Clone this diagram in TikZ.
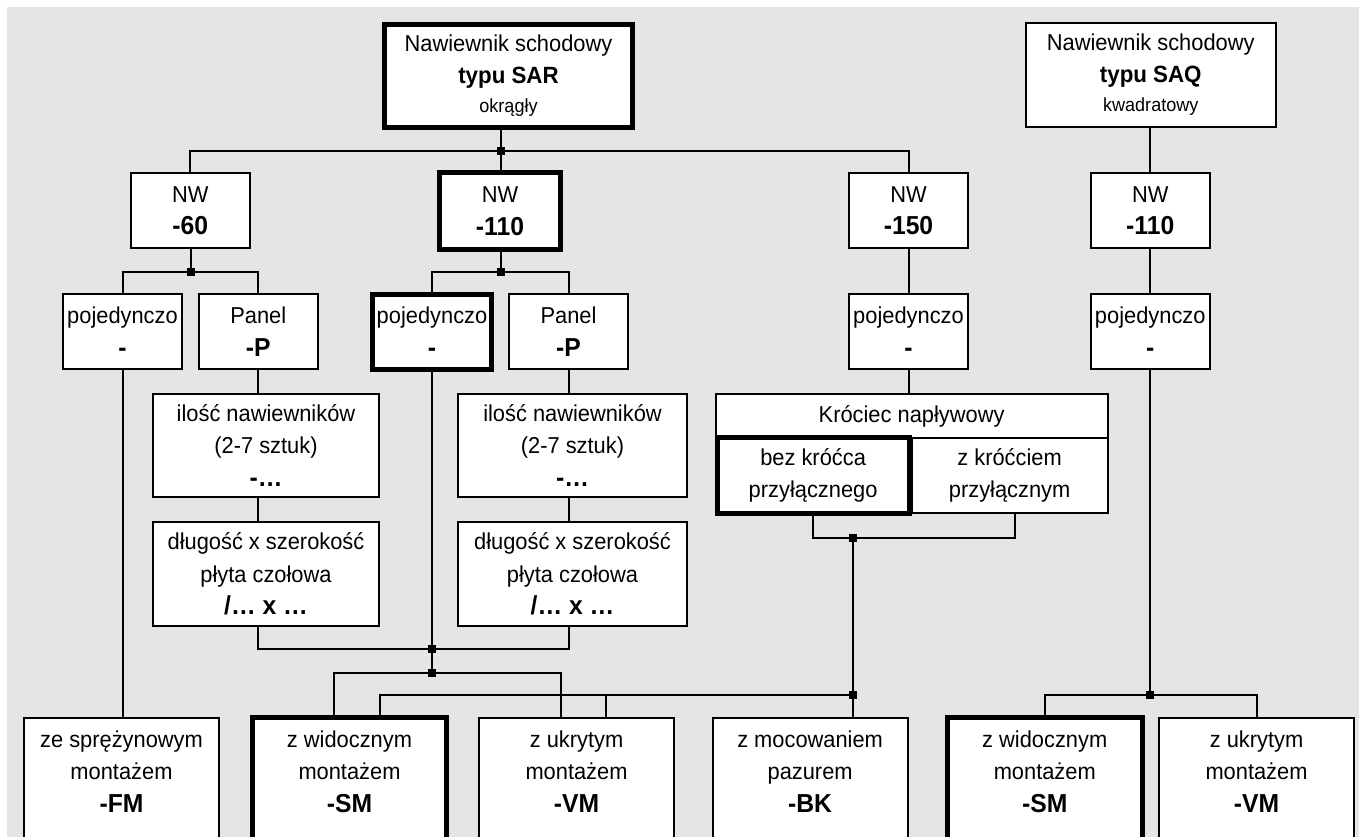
\documentclass[tikz,border=0pt]{standalone}
\usepackage{fontspec}
\setmainfont{Liberation Sans}[FakeStretch=0.95]
\definecolor{bgc}{RGB}{229,229,229}
\newcommand\rt{\fontsize{23}{32.5}\selectfont}
\newcommand\cd[1]{{\fontsize{26}{32.5}\selectfont\bfseries #1}}
\newcommand\ty[1]{{\fontsize{23.5}{32}\selectfont\bfseries #1}}
\newcommand\sml[1]{{\fontsize{19}{32}\selectfont #1}}
\tikzset{
  box/.style={draw, line width=2pt, fill=white, inner sep=0pt, align=center, font=\rt, rectangle},
  boldbox/.style={box, line width=5pt},
  junc/.style={fill=black, rectangle, minimum size=8pt, inner sep=0pt},
  conn/.style={line width=2pt},
  txt/.style={inner sep=0pt, align=center, font=\rt},
}
\begin{document}
\begin{tikzpicture}[x=1pt,y=-1pt]
\clip (0,0) rectangle (1359,837);
\fill[white] (0,0) rectangle (1359,837);
\fill[bgc] (7,7) rectangle (1359,837);

% top row
\node[boldbox, minimum width=248pt, minimum height=103pt, font=\fontsize{23}{32}\selectfont] (sar) at (508.5,76)
  {Nawiewnik schodowy\\ \ty{typu SAR}\\[-3pt] \sml{okrągły}};
\node[box, minimum width=249.5pt, minimum height=104pt, font=\fontsize{23}{32}\selectfont] (saq) at (1150.75,75)
  {Nawiewnik schodowy\\ \ty{typu SAQ}\\[-3pt] \sml{kwadratowy}};

% NW row
\node[box, minimum width=119.5pt, minimum height=75pt] (nw60) at (190.25,210.5) {NW\\ \cd{-60}};
\node[boldbox, minimum width=121pt, minimum height=77pt] (nw110) at (500,211) {NW\\ \cd{-110}};
\node[box, minimum width=119pt, minimum height=75pt] (nw150) at (908.5,210.5) {NW\\ \cd{-150}};
\node[box, minimum width=119.5pt, minimum height=75pt] (nwq) at (1150.25,210.5) {NW\\ \cd{-110}};

% pojedynczo / panel row
\node[box, minimum width=119pt, minimum height=75pt] (pj60) at (122.5,331.5) {pojedynczo\\ \cd{-}};
\node[box, minimum width=119.4pt, minimum height=75pt] (panelA) at (258.3,331.5) {Panel\\ \cd{-P}};
\node[boldbox, minimum width=119pt, minimum height=75.5pt] (pj110) at (432,331.75) {pojedynczo\\ \cd{-}};
\node[box, minimum width=119pt, minimum height=75pt] (panelB) at (568.5,331.5) {Panel\\ \cd{-P}};
\node[box, minimum width=119pt, minimum height=75pt] (pj150) at (908.5,331.5) {pojedynczo\\ \cd{-}};
\node[box, minimum width=119.5pt, minimum height=75pt] (pjq) at (1150.25,331.5) {pojedynczo\\ \cd{-}};

% ilosc / dlugosc
\node[box, minimum width=226pt, minimum height=103pt] (ilA) at (266,445.5) {ilość nawiewników\\ (2-7 sztuk)\\ \cd{-…}};
\node[box, minimum width=229pt, minimum height=103pt] (ilB) at (572.5,445.5) {ilość nawiewników\\ (2-7 sztuk)\\ \cd{-…}};
\node[box, minimum width=226pt, minimum height=104pt] (dlA) at (266,574) {długość x szerokość\\ płyta czołowa\\ \cd{/… x …}};
\node[box, minimum width=229pt, minimum height=104pt] (dlB) at (572.5,574) {długość x szerokość\\ płyta czołowa\\ \cd{/… x …}};

% Krociec
\node[box, minimum width=392pt, minimum height=44pt] (kroH) at (911.6,416) {Króciec napływowy};
\node[box, minimum width=196pt, minimum height=75pt] (zkr) at (1009.6,475.5) {z króćciem\\ przyłącznym};
\node[boldbox, minimum width=192pt, minimum height=76pt] (bez) at (813.1,475.5) {bez króćca\\ przyłącznego};

% bottom boxes
\node[box, minimum width=195pt, minimum height=182pt] (fm) at (121.5,809) {};
\node[boldbox, minimum width=194pt, minimum height=182.5pt] (sm) at (349.5,808.75) {};
\node[box, minimum width=195pt, minimum height=182pt] (vm) at (576.5,809) {};
\node[box, minimum width=195pt, minimum height=182pt] (bk) at (810.1,809) {};
\node[boldbox, minimum width=194.5pt, minimum height=182.5pt] (smq) at (1044.75,808.75) {};
\node[box, minimum width=195pt, minimum height=182pt] (vmq) at (1256.5,809) {};

\node[txt] (fmT) at (fm |- 0,771.3) {ze sprężynowym\\ montażem\\ \cd{-FM}};
\node[txt] (smT) at (sm |- 0,771.3) {z widocznym\\ montażem\\ \cd{-SM}};
\node[txt] (vmT) at (vm |- 0,771.3) {z ukrytym\\ montażem\\ \cd{-VM}};
\node[txt] (bkT) at (bk |- 0,771.3) {z mocowaniem\\ pazurem\\ \cd{-BK}};
\node[txt] (smqT) at (smq |- 0,771.3) {z widocznym\\ montażem\\ \cd{-SM}};
\node[txt] (vmqT) at (vmq |- 0,771.3) {z ukrytym\\ montażem\\ \cd{-VM}};

% junctions
\node[junc] (j1) at (501,151) {};
\node[junc] (j60) at (191,272) {};
\node[junc] (j110) at (501,272) {};
\node[junc] (jPan) at (432,649) {};
\node[junc] (jMnt) at (432,673) {};
\node[junc] (jKro) at (853,538) {};
\node[junc] (jBK) at (853,695) {};
\node[junc] (jQ) at (1150.25,695) {};

% connectors
\draw[conn] (j1 |- sar.south) -- (j1 |- nw110.north);
\draw[conn] (nw60.north) |- (j1.center) -| (nw150.north);
\draw[conn] (nwq.north |- saq.south) -- (nwq.north);
\draw[conn] (j60 |- nw60.south) -- (j60.center);
\draw[conn] (pj60.north) |- (j60.center) -| (panelA.north);
\draw[conn] (j110 |- nw110.south) -- (j110.center);
\draw[conn] (pj110.north) |- (j110.center) -| (panelB.north);
\draw[conn] (nw150.south) -- (pj150.north);
\draw[conn] (nwq.south) -- (pjq.north);
\draw[conn] (panelA.south) -- (panelA.south |- ilA.north);
\draw[conn] (panelA.south |- ilA.south) -- (panelA.south |- dlA.north);
\draw[conn] (panelB.south) -- (panelB.south |- ilB.north);
\draw[conn] (panelB.south |- ilB.south) -- (panelB.south |- dlB.north);
\draw[conn] (panelA.south |- dlA.south) |- (jPan.center) -| (panelB.south |- dlB.south);
\draw[conn] (pj110.south) -- (jMnt.center);
\draw[conn] ([xshift=-15.5pt]sm.north) |- (jMnt.center) -| ([xshift=-15.5pt]vm.north);
\draw[conn] (pj60.south) -- (pj60.south |- fm.north);
\draw[conn] (pj150.south) -- (pj150.south |- kroH.north);
\draw[conn] (bez.south) |- (jKro.center) -| ([xshift=5pt]zkr.south);
\draw[conn] (jKro.center) -- (jKro.center |- bk.north);
\draw[conn] ([xshift=30pt]sm.north) |- (jBK.center);
\draw[conn] ([xshift=29.5pt]vm.north) -- ([xshift=29.5pt]vm.north |- jBK.center);
\draw[conn] (pjq.south) -- (jQ.center);
\draw[conn] (smq.north) |- (jQ.center) -| (vmq.north);
\end{tikzpicture}
\end{document}
